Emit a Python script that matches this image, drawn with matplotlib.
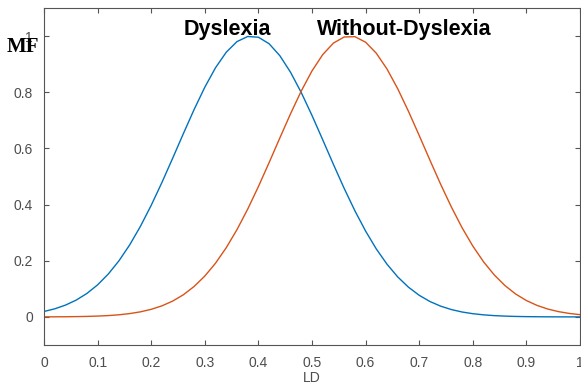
import matplotlib
matplotlib.use("Agg")
import matplotlib.pyplot as plt
import numpy as np


# ============================================================
# DATA (membership values)
# ============================================================

ld = [0.00, 0.02, 0.04, 0.06, 0.08, 0.10, 0.12, 0.14, 0.16, 0.18,
      0.20, 0.22, 0.24, 0.26, 0.28, 0.30, 0.32, 0.34, 0.36, 0.38,
      0.40, 0.42, 0.44, 0.46, 0.48, 0.50, 0.52, 0.54, 0.56, 0.58,
      0.60, 0.62, 0.64, 0.66, 0.68, 0.70, 0.72, 0.74, 0.76, 0.78,
      0.80, 0.82, 0.84, 0.86, 0.88, 0.90, 0.92, 0.94, 0.96, 0.98,
      1.00]

mf_dyslexia = [0.0194, 0.0288, 0.0420, 0.0598, 0.0835, 0.1142, 0.1528, 0.2002, 0.2569, 0.3229,
               0.3973, 0.4787, 0.5649, 0.6526, 0.7383, 0.8179, 0.8873, 0.9425, 0.9803, 0.9985,
               0.9959, 0.9727, 0.9302, 0.8711, 0.7988, 0.7173, 0.6307, 0.5430, 0.4578, 0.3780,
               0.3056, 0.2419, 0.1875, 0.1423, 0.1058, 0.0770, 0.0549, 0.0383, 0.0262, 0.0175,
               0.0115, 0.0074, 0.0046, 0.0029, 0.0017, 0.0010, 0.0006, 0.0003, 0.0002, 0.0001,
               0.0000]

mf_without = [0.0002, 0.0004, 0.0006, 0.0011, 0.0018, 0.0030, 0.0048, 0.0076, 0.0119, 0.0181,
              0.0270, 0.0394, 0.0563, 0.0789, 0.1083, 0.1454, 0.1913, 0.2464, 0.3107, 0.3837,
              0.4641, 0.5496, 0.6373, 0.7236, 0.8046, 0.8760, 0.9340, 0.9751, 0.9968, 0.9979,
              0.9782, 0.9389, 0.8825, 0.8122, 0.7320, 0.6460, 0.5583, 0.4724, 0.3915, 0.3176,
              0.2524, 0.1964, 0.1496, 0.1116, 0.0815, 0.0583, 0.0409, 0.0280, 0.0188, 0.0124,
              0.0080]

x_ticks = [0, 0.1, 0.2, 0.3, 0.4, 0.5, 0.6, 0.7, 0.8, 0.9, 1]
x_tick_labels = ["0", "0.1", "0.2", "0.3", "0.4", "0.5", "0.6", "0.7", "0.8", "0.9", "1"]
y_ticks = [0, 0.2, 0.4, 0.6, 0.8, 1]
y_tick_labels = ["0", "0.2", "0.4", "0.6", "0.8", "1"]


# ============================================================
# PLOT
# ============================================================

W, H = 581, 383
AXIS_GRAY = "#555555"
LABEL_GRAY = "#4d4d4d"

fig = plt.figure(figsize=(W / 100, H / 100), dpi=100)
ax = fig.add_axes([44 / W, 38 / H, 536 / W, 337 / H])

ax.plot(ld, mf_dyslexia, color="#0072BD", linewidth=1.0)
ax.plot(ld, mf_without, color="#D95319", linewidth=1.0)

ax.set_xlim(0, 1)
ax.set_ylim(-0.1, 1.1)

ax.set_xticks(x_ticks)
ax.set_xticklabels(x_tick_labels)
ax.set_yticks(y_ticks)
ax.set_yticklabels(y_tick_labels)

ax.tick_params(direction="in", length=3.6, width=0.8, colors=AXIS_GRAY,
               labelcolor=LABEL_GRAY, labelsize=10, pad=8,
               top=True, right=True)
for tick in ax.get_xticklabels() + ax.get_yticklabels():
    tick.set_family("Liberation Sans")

for spine in ax.spines.values():
    spine.set_color(AXIS_GRAY)
    spine.set_linewidth(0.8)

# curve names above the peaks
ax.text(0.342, 1.004, "Dyslexia", ha="center", va="baseline",
        fontsize=15.5, fontweight="bold", family="Liberation Sans")
ax.text(0.673, 1.004, "Without-Dyslexia", ha="center", va="baseline",
        fontsize=15.5, fontweight="bold", family="Liberation Sans")

# axis labels
fig.text(23 / W, 1 - 47.5 / H, "MF", ha="center", va="center",
         fontsize=15, fontweight="bold", family="Liberation Serif")
ax.text(0.5, -0.077, "LD", transform=ax.transAxes, ha="center", va="top",
        fontsize=10, color=LABEL_GRAY, family="Liberation Sans")

fig.savefig("out.png", dpi=100)
